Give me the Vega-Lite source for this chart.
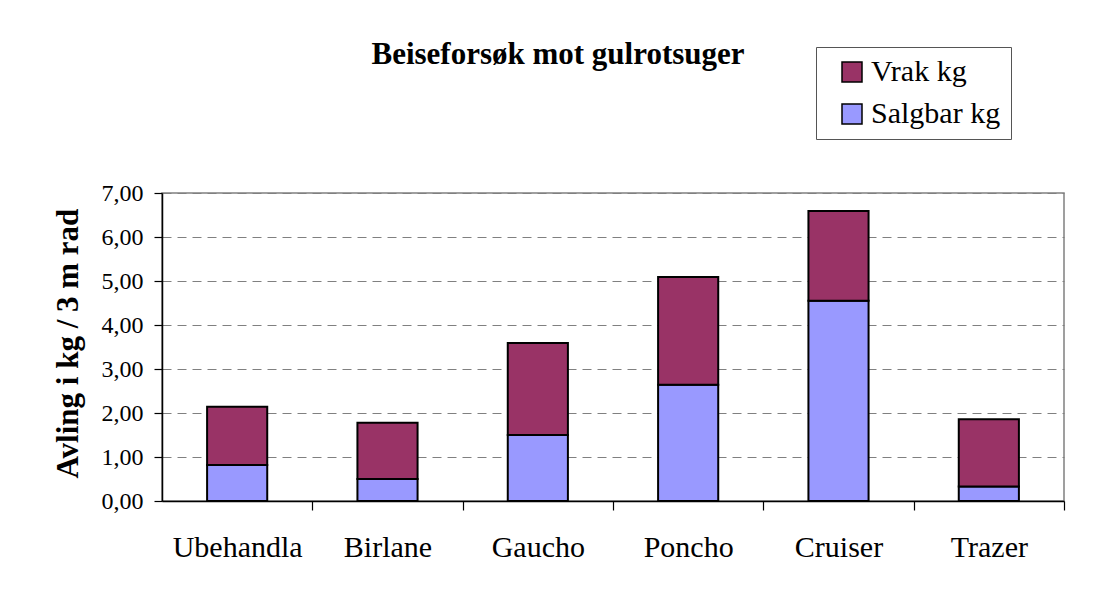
{
  "$schema": "https://vega.github.io/schema/vega-lite/v6.json",
  "width": 902,
  "height": 308,
  "autosize": {"type": "none"},
  "padding": {"left": 162, "top": 193, "right": 32, "bottom": 109},
  "background": "white",
  "title": {
    "text": "Beiseforsøk mot gulrotsuger",
    "font": "Liberation Serif",
    "fontSize": 31,
    "fontWeight": "bold",
    "color": "black",
    "anchor": "middle",
    "frame": "group",
    "dx": -55,
    "offset": -48,
    "baseline": "alphabetic"
  },
  "data": {
    "values": [
      {"behandling": "Ubehandla", "serie": "Salgbar kg", "kg": 0.82},
      {"behandling": "Ubehandla", "serie": "Vrak kg", "kg": 1.32},
      {"behandling": "Birlane", "serie": "Salgbar kg", "kg": 0.50},
      {"behandling": "Birlane", "serie": "Vrak kg", "kg": 1.28},
      {"behandling": "Gaucho", "serie": "Salgbar kg", "kg": 1.50},
      {"behandling": "Gaucho", "serie": "Vrak kg", "kg": 2.09},
      {"behandling": "Poncho", "serie": "Salgbar kg", "kg": 2.64},
      {"behandling": "Poncho", "serie": "Vrak kg", "kg": 2.45},
      {"behandling": "Cruiser", "serie": "Salgbar kg", "kg": 4.55},
      {"behandling": "Cruiser", "serie": "Vrak kg", "kg": 2.04},
      {"behandling": "Trazer", "serie": "Salgbar kg", "kg": 0.33},
      {"behandling": "Trazer", "serie": "Vrak kg", "kg": 1.53}
    ]
  },
  "mark": {"type": "bar", "stroke": "black", "strokeWidth": 2},
  "encoding": {
    "x": {
      "field": "behandling",
      "type": "nominal",
      "sort": null,
      "scale": {"paddingInner": 0.6, "paddingOuter": 0.3},
      "axis": {
        "title": null,
        "labelAngle": 0,
        "labelFont": "Liberation Serif",
        "labelFontSize": 30,
        "labelColor": "black",
        "labelPadding": 22,
        "tickSize": 9,
        "tickColor": "black",
        "tickWidth": 1.2,
        "domainColor": "black",
        "domainWidth": 1.5,
        "bandPosition": 1,
        "tickOffset": 45,
        "labelOffset": -45,
        "grid": false
      }
    },
    "y": {
      "field": "kg",
      "type": "quantitative",
      "stack": "zero",
      "scale": {"domain": [0, 7], "nice": false},
      "axis": {
        "title": "Avling i kg / 3 m rad",
        "titleFont": "Liberation Serif",
        "titleFontSize": 31,
        "titleFontWeight": "bold",
        "titleColor": "black",
        "titleAngle": -90,
        "titleAlign": "left",
        "titleBaseline": "alphabetic",
        "titleX": -85,
        "titleY": 285,
        "values": [0, 1, 2, 3, 4, 5, 6, 7],
        "labelExpr": "replace(format(datum.value, '.2f'), '.', ',')",
        "labelFont": "Liberation Serif",
        "labelFontSize": 24,
        "labelColor": "black",
        "labelPadding": 11,
        "tickSize": 8,
        "tickColor": "black",
        "tickWidth": 1.2,
        "domainColor": "black",
        "domainWidth": 1.5,
        "grid": true,
        "gridColor": "#808080",
        "gridDash": [9, 6],
        "gridWidth": 1
      }
    },
    "color": {
      "field": "serie",
      "type": "nominal",
      "scale": {"domain": ["Vrak kg", "Salgbar kg"], "range": ["#993366", "#9999FF"]},
      "legend": {
        "orient": "none",
        "legendX": 654,
        "legendY": -146,
        "title": null,
        "strokeColor": "#555555",
        "fillColor": "white",
        "padding": 10,
        "symbolType": "square",
        "symbolSize": 400,
        "symbolStrokeColor": "black",
        "symbolStrokeWidth": 1.5,
        "symbolOpacity": 1,
        "symbolOffset": 11,
        "labelFont": "Liberation Serif",
        "labelFontSize": 30,
        "labelColor": "black",
        "labelOffset": 4,
        "labelLimit": 300,
        "rowPadding": 12
      }
    },
    "order": {"field": "serie", "sort": "ascending"}
  },
  "config": {
    "view": {"stroke": "#808080", "strokeWidth": 1.5},
    "font": "Liberation Serif"
  }
}
